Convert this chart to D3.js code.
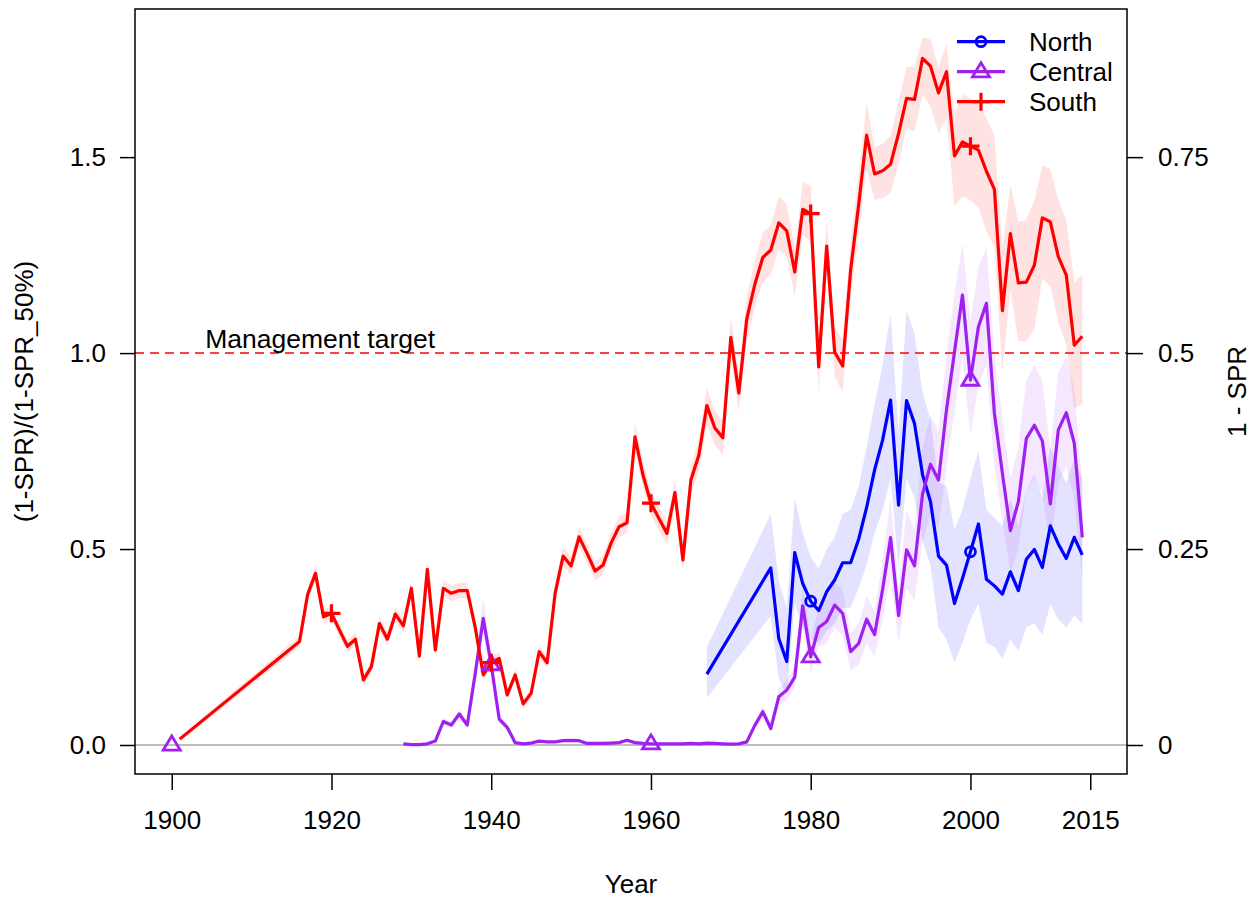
<!DOCTYPE html>
<html>
<head>
<meta charset="utf-8">
<script src="https://cdn.jsdelivr.net/npm/d3@7"></script>
<style>
  body { margin: 0; background: #fff; }
  svg { display: block; font-family: 'Liberation Sans', Arial, sans-serif; }
</style>
</head>
<body>
<svg id="chart" width="1257" height="900"></svg>
<script>
// ---- data ----
const xTicks = [1900, 1920, 1940, 1960, 1980, 2000, 2015];
const leftTicks = [0, 0.5, 1.0, 1.5];
const rightTicks = [0, 0.25, 0.5, 0.75];
const targetValue = 1.0;

const southYears = [1901].concat(d3.range(1916, 2015));
const southValues = [0.015,
  0.264, 0.383, 0.438, 0.327, 0.336, 0.293, 0.252, 0.27, 0.166, 0.2,
  0.31, 0.27, 0.334, 0.304, 0.40, 0.227, 0.448, 0.242, 0.40, 0.387,
  0.394, 0.394, 0.30, 0.179, 0.21, 0.221, 0.128, 0.179, 0.105, 0.132,
  0.238, 0.21, 0.387, 0.482, 0.457, 0.531, 0.489, 0.444, 0.459, 0.515,
  0.557, 0.567, 0.786, 0.689, 0.617, 0.578, 0.54, 0.644, 0.472, 0.676,
  0.74, 0.866, 0.809, 0.784, 1.04, 0.898, 1.088, 1.175, 1.244, 1.263,
  1.332, 1.312, 1.207, 1.367, 1.356, 0.965, 1.273, 1.003, 0.967, 1.212,
  1.378, 1.556, 1.457, 1.465, 1.482, 1.56, 1.65, 1.647, 1.752, 1.732,
  1.664, 1.718, 1.503, 1.539, 1.528, 1.518, 1.464, 1.418, 1.108, 1.305,
  1.179, 1.181, 1.224, 1.345, 1.335, 1.246, 1.199, 1.02, 1.043];
const southLow = [0.008,
  0.25, 0.365, 0.418, 0.31, 0.318, 0.276, 0.236, 0.254, 0.152, 0.185,
  0.292, 0.253, 0.315, 0.286, 0.38, 0.21, 0.425, 0.225, 0.38, 0.367,
  0.374, 0.374, 0.282, 0.165, 0.195, 0.205, 0.116, 0.165, 0.094, 0.12,
  0.222, 0.195, 0.365, 0.458, 0.433, 0.505, 0.464, 0.42, 0.435, 0.49,
  0.53, 0.54, 0.75, 0.656, 0.586, 0.548, 0.51, 0.61, 0.445, 0.64,
  0.70, 0.82, 0.765, 0.74, 0.985, 0.85, 1.03, 1.115, 1.18, 1.20,
  1.265, 1.245, 1.145, 1.30, 1.285, 0.90, 1.205, 0.94, 0.90, 1.14,
  1.305, 1.47, 1.39, 1.395, 1.41, 1.48, 1.575, 1.565, 1.66, 1.63,
  1.56, 1.60, 1.375, 1.40, 1.39, 1.37, 1.31, 1.27, 0.95, 1.16,
  1.03, 1.03, 1.06, 1.19, 1.17, 1.08, 1.02, 0.86, 0.87];
const southHigh = [0.022,
  0.278, 0.40, 0.46, 0.344, 0.354, 0.31, 0.268, 0.287, 0.18, 0.215,
  0.328, 0.287, 0.353, 0.322, 0.42, 0.244, 0.47, 0.26, 0.42, 0.407,
  0.414, 0.414, 0.318, 0.193, 0.225, 0.237, 0.14, 0.193, 0.116, 0.144,
  0.254, 0.225, 0.41, 0.506, 0.481, 0.557, 0.514, 0.468, 0.483, 0.54,
  0.584, 0.594, 0.822, 0.722, 0.648, 0.608, 0.57, 0.678, 0.50, 0.712,
  0.78, 0.912, 0.853, 0.828, 1.095, 0.946, 1.146, 1.235, 1.308, 1.326,
  1.40, 1.38, 1.27, 1.435, 1.427, 1.03, 1.34, 1.066, 1.035, 1.285,
  1.452, 1.64, 1.525, 1.535, 1.555, 1.64, 1.73, 1.73, 1.805, 1.80,
  1.73, 1.79, 1.61, 1.66, 1.65, 1.635, 1.60, 1.555, 1.27, 1.43,
  1.335, 1.34, 1.39, 1.48, 1.47, 1.39, 1.34, 1.18, 1.20];

const centralYears = [1900].concat(d3.range(1929, 2015));
const centralValues = [0,
  0.003, 0.001, 0.001, 0.003, 0.01, 0.06, 0.051, 0.079, 0.051, 0.183,
  0.323, 0.205, 0.066, 0.045, 0.006, 0.003, 0.005, 0.01, 0.008, 0.008,
  0.011, 0.012, 0.011, 0.004, 0.004, 0.004, 0.005, 0.006, 0.012, 0.006,
  0.004, 0.003, 0.003, 0.003, 0.003, 0.003, 0.004, 0.003, 0.005, 0.004,
  0.003, 0.002, 0.003, 0.008, 0.05, 0.085, 0.042, 0.123, 0.14, 0.173,
  0.355, 0.225, 0.30, 0.315, 0.357, 0.336, 0.238, 0.259, 0.321, 0.282,
  0.397, 0.529, 0.33, 0.498, 0.457, 0.64, 0.716, 0.676, 0.855, 1.003,
  1.148, 0.931, 1.067, 1.127, 0.846, 0.693, 0.547, 0.621, 0.782, 0.816,
  0.776, 0.615, 0.804, 0.848, 0.77, 0.53];
const centralLow = [0,
  0.002, 0.001, 0.001, 0.002, 0.007, 0.05, 0.042, 0.068, 0.042, 0.16,
  0.28, 0.18, 0.055, 0.037, 0.004, 0.002, 0.003, 0.007, 0.006, 0.006,
  0.008, 0.009, 0.008, 0.003, 0.003, 0.003, 0.004, 0.004, 0.009, 0.004,
  0.003, 0.002, 0.002, 0.002, 0.002, 0.002, 0.003, 0.002, 0.004, 0.003,
  0.002, 0.001, 0.002, 0.006, 0.04, 0.07, 0.033, 0.10, 0.115, 0.145,
  0.30, 0.185, 0.25, 0.26, 0.30, 0.28, 0.19, 0.205, 0.26, 0.225,
  0.32, 0.43, 0.26, 0.40, 0.37, 0.52, 0.59, 0.55, 0.71, 0.85,
  0.99, 0.79, 0.92, 0.97, 0.71, 0.57, 0.44, 0.50, 0.65, 0.68,
  0.64, 0.50, 0.67, 0.71, 0.63, 0.42];
const centralHigh = [0,
  0.004, 0.002, 0.002, 0.004, 0.013, 0.07, 0.06, 0.09, 0.06, 0.21,
  0.375, 0.23, 0.077, 0.054, 0.008, 0.004, 0.007, 0.013, 0.01, 0.01,
  0.014, 0.015, 0.014, 0.005, 0.005, 0.005, 0.006, 0.008, 0.015, 0.008,
  0.005, 0.004, 0.004, 0.004, 0.004, 0.004, 0.005, 0.004, 0.006, 0.005,
  0.004, 0.003, 0.004, 0.01, 0.06, 0.10, 0.052, 0.146, 0.165, 0.20,
  0.41, 0.265, 0.35, 0.37, 0.415, 0.395, 0.285, 0.31, 0.38, 0.34,
  0.47, 0.63, 0.40, 0.60, 0.55, 0.76, 0.84, 0.80, 0.99, 1.15,
  1.28, 1.08, 1.22, 1.27, 1.0, 0.83, 0.68, 0.76, 0.93, 0.97,
  0.93, 0.75, 0.95, 0.99, 0.91, 0.66];

const northYears = [1967].concat(d3.range(1975, 2015));
const northValues = [0.181,
  0.452, 0.272, 0.213, 0.491, 0.412, 0.367, 0.343, 0.391, 0.421, 0.465,
  0.465, 0.525, 0.606, 0.702, 0.778, 0.88, 0.612, 0.879, 0.82, 0.69,
  0.621, 0.482, 0.459, 0.361, 0.425, 0.493, 0.564, 0.423, 0.406, 0.385,
  0.442, 0.394, 0.474, 0.499, 0.453, 0.559, 0.513, 0.476, 0.53, 0.485];
const northLow = [0.12,
  0.33, 0.17, 0.13, 0.36, 0.30, 0.27, 0.26, 0.29, 0.31, 0.35,
  0.35, 0.40, 0.46, 0.54, 0.60, 0.68, 0.45, 0.68, 0.63, 0.52,
  0.46, 0.30, 0.27, 0.21, 0.26, 0.32, 0.36, 0.26, 0.25, 0.22,
  0.27, 0.24, 0.30, 0.31, 0.28, 0.36, 0.32, 0.30, 0.33, 0.31];
const northHigh = [0.25,
  0.59, 0.42, 0.35, 0.63, 0.54, 0.48, 0.45, 0.50, 0.53, 0.59,
  0.60, 0.66, 0.76, 0.87, 0.97, 1.10, 0.80, 1.11, 1.05, 0.90,
  0.83, 0.67, 0.66, 0.55, 0.60, 0.68, 0.75, 0.60, 0.58, 0.56,
  0.63, 0.56, 0.65, 0.69, 0.63, 0.76, 0.71, 0.67, 0.73, 0.68];

const southMarkYears = [1920, 1940, 1960, 1980, 2000];
const centralMarkYears = [1900, 1940, 1960, 1980, 2000];
const northMarkYears = [1980, 2000];

// ---- build series ----
const zip = (years, vals, lo, hi) => years.map((yr, i) => ({ year: yr, v: vals[i], lo: lo[i], hi: hi[i] }));
const series = [
  { name: 'North', color: '#0000ff', fill: 'rgba(0,0,255,0.11)', shape: 'circle',
    data: zip(northYears, northValues, northLow, northHigh), marks: northMarkYears },
  { name: 'Central', color: '#a020f0', fill: 'rgba(160,32,240,0.11)', shape: 'triangle',
    data: zip(centralYears, centralValues, centralLow, centralHigh), marks: centralMarkYears },
  { name: 'South', color: '#ff0000', fill: 'rgba(255,0,0,0.11)', shape: 'plus',
    data: zip(southYears, southValues, southLow, southHigh), marks: southMarkYears },
];

const plot = { left: 135, right: 1127, top: 9, bottom: 774 };
const font = "'Liberation Sans', Arial, sans-serif";
const fs = 26;

const x = d3.scaleLinear().domain([1895.4, 2019.6]).range([plot.left, plot.right]);
const y = d3.scaleLinear().domain([-0.074, 1.878]).range([plot.bottom, plot.top]);
const y2 = d3.scaleLinear().domain([-0.037, 0.939]).range([plot.bottom, plot.top]);

const svg = d3.select('#chart');

// clip to plot box
svg.append('clipPath').attr('id', 'clip')
  .append('rect')
  .attr('x', plot.left).attr('y', plot.top)
  .attr('width', plot.right - plot.left).attr('height', plot.bottom - plot.top);

const g = svg.append('g').attr('clip-path', 'url(#clip)');

// zero line
g.append('line')
  .attr('x1', plot.left).attr('x2', plot.right)
  .attr('y1', y(0)).attr('y2', y(0))
  .attr('stroke', '#bebebe').attr('stroke-width', 2);

// uncertainty bands
const area = d3.area()
  .x((d) => x(d.year))
  .y0((d) => y(d.lo))
  .y1((d) => y(d.hi));
series.forEach((s) => {
  g.append('path')
    .attr('d', area(s.data.filter((d) => d.v > 0)))
    .attr('fill', s.fill)
    .attr('stroke', 'none');
});

// management target
g.append('line')
  .attr('x1', plot.left).attr('x2', plot.right)
  .attr('y1', y(targetValue)).attr('y2', y(targetValue))
  .attr('stroke', '#ff0000').attr('stroke-width', 1.5)
  .attr('stroke-dasharray', '9,6');
svg.append('text')
  .attr('x', x(1904.2)).attr('y', y(targetValue) - 5)
  .attr('font-size', 26.5).attr('font-family', font)
  .text('Management target');

// lines
const line = d3.line()
  .x((d) => x(d.year))
  .y((d) => y(d.v));
series.forEach((s) => {
  g.append('path')
    .attr('d', line(s.data.filter((d) => d.v > 0)))
    .attr('fill', 'none')
    .attr('stroke', s.color)
    .attr('stroke-width', 3.2)
    .attr('stroke-linejoin', 'round');
});

// marker shapes
function drawMarker(sel, shape, cx, cy, color) {
  if (shape === 'circle') {
    sel.append('circle').attr('cx', cx).attr('cy', cy).attr('r', 5)
      .attr('fill', 'none').attr('stroke', color).attr('stroke-width', 2.8);
  } else if (shape === 'triangle') {
    const w = 8.5, h = 8.5;
    sel.append('path')
      .attr('d', `M${cx - w},${cy + h * 0.6}L${cx + w},${cy + h * 0.6}L${cx},${cy - h * 1.05}Z`)
      .attr('fill', 'none').attr('stroke', color).attr('stroke-width', 2.8)
      .attr('stroke-linejoin', 'miter');
  } else {
    sel.append('path')
      .attr('d', `M${cx - 9},${cy}H${cx + 9}M${cx},${cy - 9}V${cy + 9}`)
      .attr('stroke', color).attr('stroke-width', 3.2);
  }
}
series.forEach((s) => {
  s.marks.forEach((yr) => {
    const d = s.data.find((p) => p.year === yr);
    if (d) drawMarker(g, s.shape, x(d.year), y(d.v), s.color);
  });
});

// box
svg.append('rect')
  .attr('x', plot.left).attr('y', plot.top)
  .attr('width', plot.right - plot.left).attr('height', plot.bottom - plot.top)
  .attr('fill', 'none').attr('stroke', '#000').attr('stroke-width', 1.5);

// axes
const styleAxis = (ax) => {
  ax.select('.domain').remove();
  ax.selectAll('line').attr('stroke', '#000').attr('stroke-width', 1.5);
  ax.selectAll('text').attr('font-size', fs).attr('font-family', font).attr('fill', '#000');
};

const xAxis = svg.append('g')
  .attr('transform', `translate(0,${plot.bottom})`)
  .call(d3.axisBottom(x).tickValues(xTicks).tickFormat(d3.format('d')).tickSize(16).tickPadding(21));
styleAxis(xAxis);

const yAxis = svg.append('g')
  .attr('transform', `translate(${plot.left},0)`)
  .call(d3.axisLeft(y).tickValues(leftTicks).tickFormat(d3.format('.1f')).tickSize(15).tickPadding(14));
styleAxis(yAxis);

const y2Axis = svg.append('g')
  .attr('transform', `translate(${plot.right},0)`)
  .call(d3.axisRight(y2).tickValues(rightTicks).tickFormat((d) => String(d)).tickSize(16).tickPadding(15));
styleAxis(y2Axis);

// axis titles
svg.append('text')
  .attr('x', (plot.left + plot.right) / 2).attr('y', 893)
  .attr('text-anchor', 'middle')
  .attr('font-size', fs).attr('font-family', font)
  .text('Year');
svg.append('text')
  .attr('transform', `translate(33,${(plot.top + plot.bottom) / 2}) rotate(-90)`)
  .attr('text-anchor', 'middle')
  .attr('font-size', fs).attr('font-family', font)
  .text('(1-SPR)/(1-SPR_50%)');
svg.append('text')
  .attr('transform', `translate(1246,${(plot.top + plot.bottom) / 2}) rotate(-90)`)
  .attr('text-anchor', 'middle')
  .attr('font-size', fs).attr('font-family', font)
  .text('1 - SPR');

// legend
const legend = svg.append('g');
series.forEach((s, i) => {
  const ly = 41.7 + i * 30;
  legend.append('line')
    .attr('x1', 957).attr('x2', 1005)
    .attr('y1', ly).attr('y2', ly)
    .attr('stroke', s.color).attr('stroke-width', 3.2);
  drawMarker(legend, s.shape, 981, ly, s.color);
  legend.append('text')
    .attr('x', 1029).attr('y', ly)
    .attr('dy', '0.35em')
    .attr('font-size', fs).attr('font-family', font)
    .text(s.name);
});
</script>
</body>
</html>
